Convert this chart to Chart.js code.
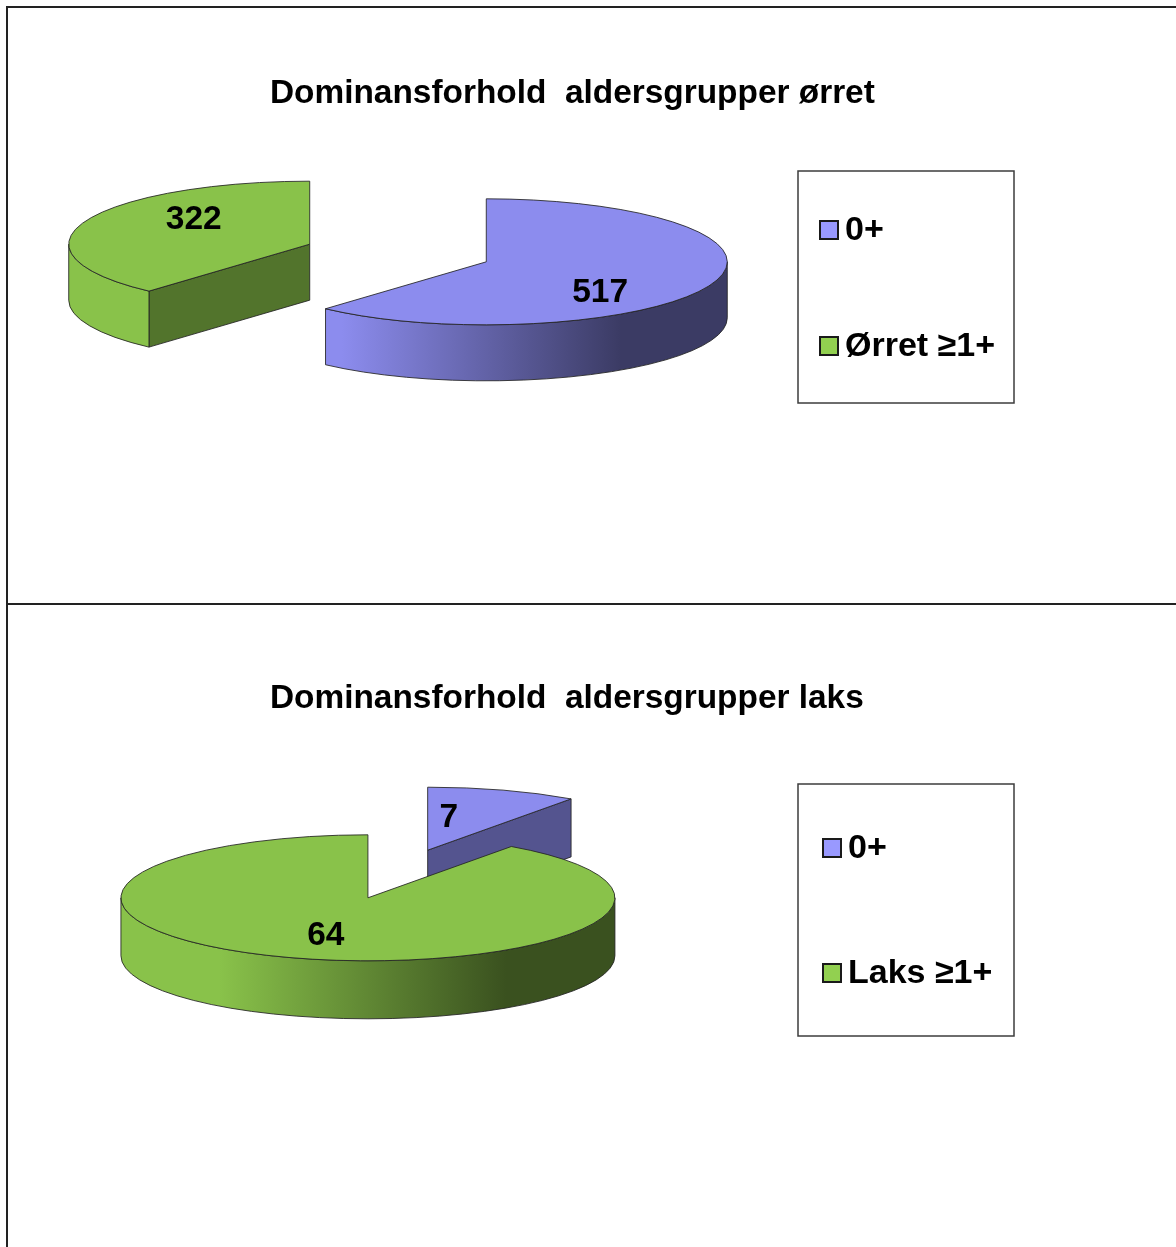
<!DOCTYPE html>
<html>
<head>
<meta charset="utf-8">
<title>Dominansforhold aldersgrupper</title>
<script src="https://cdn.jsdelivr.net/npm/chart.js@4"></script>
<style>
  html, body { margin: 0; padding: 0; background: #fff; overflow: hidden; }
  body { position: relative; width: 1176px; height: 1247px; }
  .rule { position: absolute; background: #222; }
  canvas { position: absolute; }
</style>
</head>
<body>
<div class="rule" style="left:6px;top:6px;width:1170px;height:2px"></div>
<div class="rule" style="left:6px;top:603px;width:1170px;height:2px"></div>
<div class="rule" style="left:6px;top:6px;width:2px;height:1241px"></div>
<canvas id="orret" style="left:8px;top:8px"></canvas>
<canvas id="laks" style="left:8px;top:605px"></canvas>
<script>
// Fish counts per age group
const orretLabels = ['0+', 'Ørret ≥1+'];
const orretValues = [517, 322];
const laksLabels = ['0+', 'Laks ≥1+'];
const laksValues = [7, 64];

const sliceColors = ['#8C8CEE', '#89C24A'];
const swatchColors = ['#9999FF', '#92D050'];
const OUTLINE = 'rgba(35,35,35,0.85)';
const FONT_FAMILY = '"Liberation Sans", Arial, sans-serif';
const TITLE_SIZE = 33.4;
const VALUE_SIZE = 33.5;
const LEGEND_SIZE = 34;

function shade(hex, f) {
  const n = parseInt(hex.slice(1), 16);
  const c = [n >> 16, (n >> 8) & 255, n & 255].map(v => Math.round(v * f));
  return `rgb(${c[0]},${c[1]},${c[2]})`;
}

// Draws the pie as a tilted, exploded disc: Chart.js lays out the arcs,
// this plugin squashes them and adds the side walls, value labels and legend.
const tiltedPie = {
  id: 'tiltedPie',
  afterLayout(chart, args, o) {
    const t = chart.titleBlock;
    t.left = o.titleAt.x;
    t.right = chart.width;
    t.top = o.titleAt.y - t.height / 2;
    t.bottom = t.top + t.height;
  },
  beforeDatasetDraw(chart, args, o) {
    const ctx = chart.ctx;
    const arcs = chart.getDatasetMeta(args.index).data;
    const k = o.squash;
    arcs.forEach((arc, i) => {
      const r = arc.outerRadius;
      const a0 = arc.startAngle, a1 = arc.endAngle;
      const mid = (a0 + a1) / 2;
      const cx = o.center.x + Math.cos(mid) * o.explode;
      const cy = o.center.y + Math.sin(mid) * o.explode * k;
      const ry = r * k;
      const base = sliceColors[i];
      const px = a => cx + Math.cos(a) * r;
      const py = a => cy + Math.sin(a) * ry;

      ctx.save();
      ctx.lineWidth = 1;
      ctx.strokeStyle = OUTLINE;
      ctx.lineJoin = 'round';

      // radial cut faces that turn toward the viewer
      [[a0, Math.cos(a0) < -1e-6], [a1, Math.cos(a1) > 1e-6]].forEach(([a, visible]) => {
        if (!visible) return;
        ctx.beginPath();
        ctx.moveTo(cx, cy);
        ctx.lineTo(px(a), py(a));
        ctx.lineTo(px(a), py(a) + o.depth);
        ctx.lineTo(cx, cy + o.depth);
        ctx.closePath();
        ctx.fillStyle = shade(base, 0.6);
        ctx.fill();
        ctx.stroke();
      });

      // curved front wall, lit from the left
      const from = Math.max(a0, 0), to = Math.min(a1, Math.PI);
      if (to > from) {
        const g = ctx.createLinearGradient(cx - r, 0, cx + r, 0);
        g.addColorStop(0, base);
        g.addColorStop(0.2, base);
        g.addColorStop(0.78, shade(base, 0.42));
        g.addColorStop(1, shade(base, 0.42));
        ctx.beginPath();
        ctx.ellipse(cx, cy, r, ry, 0, from, to);
        ctx.lineTo(px(to), py(to) + o.depth);
        ctx.ellipse(cx, cy + o.depth, r, ry, 0, to, from, true);
        ctx.closePath();
        ctx.fillStyle = g;
        ctx.fill();
        ctx.stroke();
      }

      // top face is the library's own arc, squashed
      ctx.save();
      ctx.translate(cx, cy);
      ctx.scale(1, k);
      ctx.translate(-arc.x, -arc.y);
      arc.draw(ctx);
      ctx.restore();

      ctx.beginPath();
      ctx.moveTo(cx, cy);
      ctx.ellipse(cx, cy, r, ry, 0, a0, a1);
      ctx.closePath();
      ctx.stroke();
      ctx.restore();
    });
    return false;
  },
  afterDatasetsDraw(chart, args, o) {
    const ctx = chart.ctx;
    const arcs = chart.getDatasetMeta(0).data;
    const values = chart.data.datasets[0].data;
    ctx.save();
    ctx.font = `bold ${VALUE_SIZE}px ${FONT_FAMILY}`;
    ctx.fillStyle = '#000';
    ctx.textAlign = 'center';
    ctx.textBaseline = 'middle';
    arcs.forEach((arc, i) => {
      const mid = (arc.startAngle + arc.endAngle) / 2;
      const R = arc.outerRadius * o.labelRadius[i];
      const x = o.center.x + Math.cos(mid) * (o.explode + R);
      const y = o.center.y + Math.sin(mid) * (o.explode + R) * o.squash + o.labelLift[i];
      ctx.fillText(String(values[i]), x, y);
    });
    ctx.restore();

    // legend frame with one swatch row per category
    const l = o.legend;
    ctx.save();
    ctx.lineWidth = 1.5;
    ctx.strokeStyle = '#3c3c3c';
    ctx.strokeRect(l.x, l.y, l.w, l.h);
    ctx.font = `bold ${LEGEND_SIZE}px ${FONT_FAMILY}`;
    ctx.textBaseline = 'middle';
    chart.data.labels.forEach((label, i) => {
      const y = l.rows[i];
      ctx.fillStyle = swatchColors[i];
      ctx.fillRect(l.swatchX, y - 10, 18, 18);
      ctx.lineWidth = 2;
      ctx.strokeStyle = '#1a1a1a';
      ctx.strokeRect(l.swatchX, y - 10, 18, 18);
      ctx.fillStyle = '#000';
      ctx.fillText(label, l.textX, y);
    });
    ctx.restore();
  }
};

function makeChart(id, w, h, labels, values, title, opts) {
  const el = document.getElementById(id);
  el.width = w;
  el.height = h;
  return new Chart(el, {
    type: 'pie',
    data: {
      labels,
      datasets: [{ data: values, backgroundColor: sliceColors, borderWidth: 0 }]
    },
    plugins: [tiltedPie],
    options: {
      responsive: false,
      animation: false,
      radius: opts.radius,
      plugins: {
        legend: { display: false },
        tooltip: { enabled: false },
        title: {
          display: true,
          text: title,
          align: 'start',
          color: '#000',
          padding: 0,
          font: { family: FONT_FAMILY, size: TITLE_SIZE, weight: 'bold' }
        },
        tiltedPie: opts
      }
    }
  });
}

makeChart('orret', 1168, 596, orretLabels, orretValues,
  'Dominansforhold  aldersgrupper ørret', {
    radius: 241, squash: 63 / 241, depth: 56, explode: 94.5,
    center: { x: 390, y: 245 },
    titleAt: { x: 262, y: 86 },
    labelRadius: [0.506, 0.515],
    labelLift: [19.6, -12.4],
    legend: { x: 790, y: 163, w: 216, h: 232, swatchX: 812, textX: 837, rows: [223, 339] }
  });

makeChart('laks', 1168, 642, laksLabels, laksValues,
  'Dominansforhold  aldersgrupper laks', {
    radius: 247, squash: 63 / 247, depth: 58, explode: 98,
    center: { x: 389.8, y: 269 },
    titleAt: { x: 262, y: 94 },
    labelRadius: [0.28, 0.56],
    labelLift: [-16, 4.4],
    legend: { x: 790, y: 179, w: 216, h: 252, swatchX: 815, textX: 840, rows: [244, 369] }
  });
</script>
</body>
</html>
